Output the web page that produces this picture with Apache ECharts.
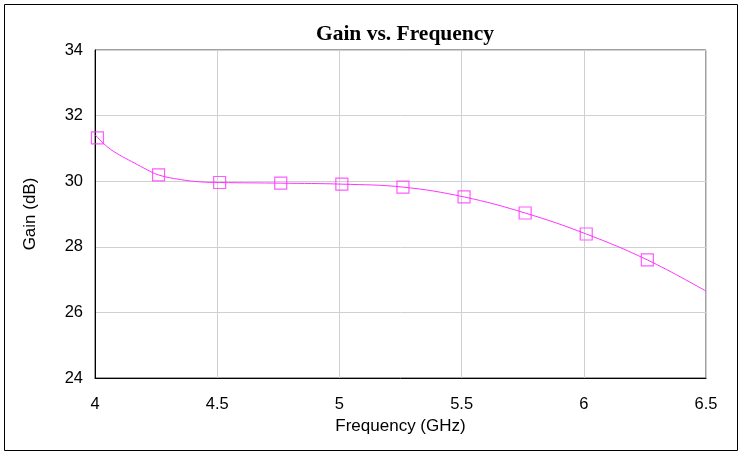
<!DOCTYPE html>
<html>
<head>
<meta charset="utf-8">
<script src="https://cdn.jsdelivr.net/npm/echarts@6/dist/echarts.min.js"></script>
<style>
html,body{margin:0;padding:0;background:#fff;}
#chart{width:742px;height:454px;}
</style>
</head>
<body>
<div id="chart"></div>
<script>
// Smooth curve samples (GHz, dB)
var curveFreq = [4.0, 4.05, 4.1, 4.15, 4.2, 4.26, 4.35, 4.43, 4.51, 4.76, 5.01, 5.26, 5.51, 5.76, 6.01, 6.26, 6.5];
var curveGain = [31.42, 31.05, 30.8, 30.6, 30.4, 30.19, 30.05, 29.98, 29.96, 29.94, 29.91, 29.82, 29.52, 29.03, 28.39, 27.6, 26.65];
// Marker points
var markerFreq = [4.01, 4.26, 4.51, 4.76, 5.01, 5.26, 5.51, 5.76, 6.01, 6.26];
var markerGain = [31.32, 30.19, 29.96, 29.94, 29.91, 29.82, 29.52, 29.03, 28.39, 27.6];
var xTicks = [4, 4.5, 5, 5.5, 6, 6.5];
var yTicks = [24, 26, 28, 30, 32, 34];

var curveData = curveFreq.map(function(f, i){ return [f, curveGain[i]]; });
var markerData = markerFreq.map(function(f, i){ return [f, markerGain[i]]; });

var chart = echarts.init(document.getElementById('chart'), null, {renderer:'canvas'});
chart.setOption({
  animation: false,
  backgroundColor: '#fff',
  title: {
    text: 'Gain vs. Frequency',
    left: 400, top: 18, textAlign: 'center',
    textStyle: {fontFamily: 'Liberation Serif', fontWeight: 'bold', fontSize: 21.5, color: '#000'}
  },
  graphic: [{
    type: 'rect', silent: true,
    shape: {x: 4.5, y: 4.5, width: 733, height: 446},
    style: {fill: 'none', stroke: '#000', lineWidth: 1}
  }],
  grid: {left: 95, right: 36, top: 50, bottom: 76, show: true, borderColor: '#444', borderWidth: 1},
  xAxis: {
    type: 'value', min: xTicks[0], max: xTicks[xTicks.length-1], interval: 0.5,
    name: 'Frequency (GHz)', nameLocation: 'middle', nameGap: 39,
    nameTextStyle: {fontFamily: 'Liberation Sans', fontSize: 17, color: '#000'},
    axisLine: {show: true, lineStyle: {color: '#000', width: 1}},
    axisTick: {show: false},
    axisLabel: {fontFamily: 'Liberation Sans', fontSize: 16.5, color: '#000', margin: 18},
    splitLine: {show: true, lineStyle: {color: '#d0d0d0', width: 1}}
  },
  yAxis: {
    type: 'value', min: yTicks[0], max: yTicks[yTicks.length-1], interval: 2,
    name: 'Gain (dB)', nameLocation: 'middle', nameGap: 56, nameRotate: 90,
    nameTextStyle: {fontFamily: 'Liberation Sans', fontSize: 17, color: '#000'},
    axisLine: {show: true, lineStyle: {color: '#000', width: 1}},
    axisTick: {show: false},
    axisLabel: {fontFamily: 'Liberation Sans', fontSize: 16.5, color: '#000', margin: 12},
    splitLine: {show: true, lineStyle: {color: '#d0d0d0', width: 1}}
  },
  series: [{
    type: 'line', data: curveData, smooth: 0.4, symbol: 'none',
    lineStyle: {color: '#ff33ff', width: 1}, z: 3
  }, {
    type: 'scatter', data: markerData, symbol: 'rect', symbolSize: 12,
    itemStyle: {color: 'rgba(0,0,0,0)', borderColor: '#ff33ff', borderWidth: 1.2}, z: 4
  }]
});
</script>
</body>
</html>
